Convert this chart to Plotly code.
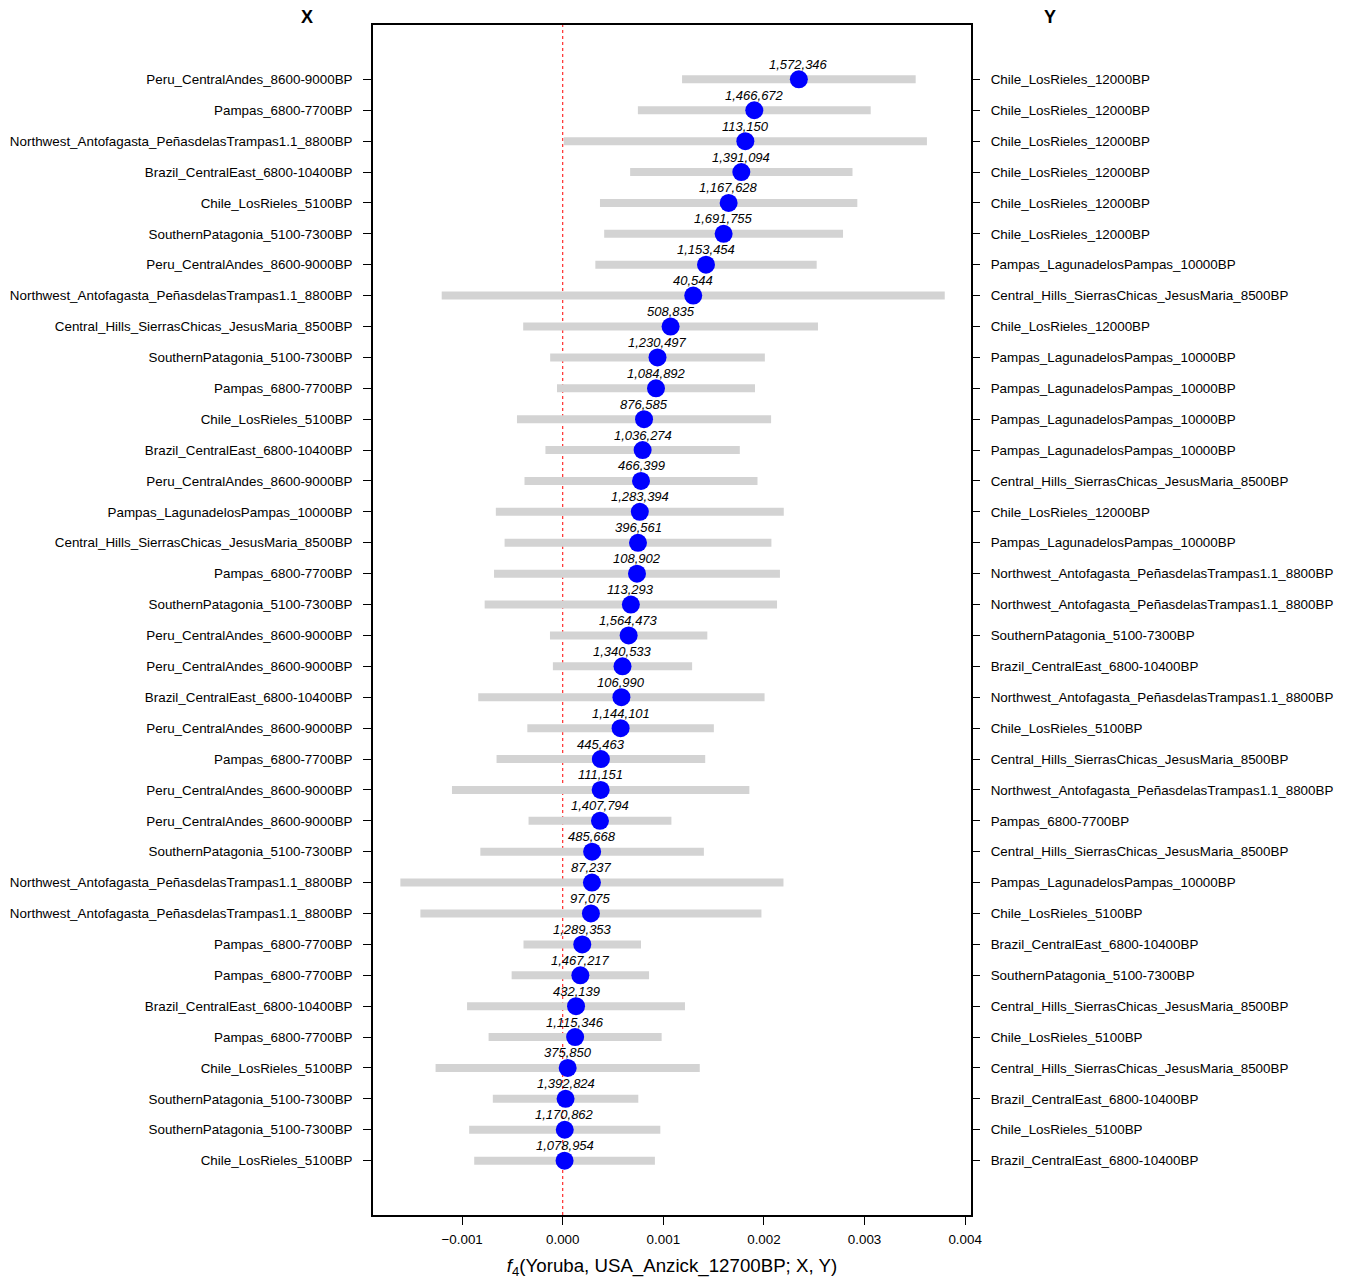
import plotly.graph_objects as go

# f4(Yoruba, USA_Anzick_12700BP; X, Y) for each X/Y pair, sorted by estimate
x_pops = [
    "Peru_CentralAndes_8600-9000BP",
    "Pampas_6800-7700BP",
    "Northwest_Antofagasta_PeñasdelasTrampas1.1_8800BP",
    "Brazil_CentralEast_6800-10400BP",
    "Chile_LosRieles_5100BP",
    "SouthernPatagonia_5100-7300BP",
    "Peru_CentralAndes_8600-9000BP",
    "Northwest_Antofagasta_PeñasdelasTrampas1.1_8800BP",
    "Central_Hills_SierrasChicas_JesusMaria_8500BP",
    "SouthernPatagonia_5100-7300BP",
    "Pampas_6800-7700BP",
    "Chile_LosRieles_5100BP",
    "Brazil_CentralEast_6800-10400BP",
    "Peru_CentralAndes_8600-9000BP",
    "Pampas_LagunadelosPampas_10000BP",
    "Central_Hills_SierrasChicas_JesusMaria_8500BP",
    "Pampas_6800-7700BP",
    "SouthernPatagonia_5100-7300BP",
    "Peru_CentralAndes_8600-9000BP",
    "Peru_CentralAndes_8600-9000BP",
    "Brazil_CentralEast_6800-10400BP",
    "Peru_CentralAndes_8600-9000BP",
    "Pampas_6800-7700BP",
    "Peru_CentralAndes_8600-9000BP",
    "Peru_CentralAndes_8600-9000BP",
    "SouthernPatagonia_5100-7300BP",
    "Northwest_Antofagasta_PeñasdelasTrampas1.1_8800BP",
    "Northwest_Antofagasta_PeñasdelasTrampas1.1_8800BP",
    "Pampas_6800-7700BP",
    "Pampas_6800-7700BP",
    "Brazil_CentralEast_6800-10400BP",
    "Pampas_6800-7700BP",
    "Chile_LosRieles_5100BP",
    "SouthernPatagonia_5100-7300BP",
    "SouthernPatagonia_5100-7300BP",
    "Chile_LosRieles_5100BP",
]

y_pops = [
    "Chile_LosRieles_12000BP",
    "Chile_LosRieles_12000BP",
    "Chile_LosRieles_12000BP",
    "Chile_LosRieles_12000BP",
    "Chile_LosRieles_12000BP",
    "Chile_LosRieles_12000BP",
    "Pampas_LagunadelosPampas_10000BP",
    "Central_Hills_SierrasChicas_JesusMaria_8500BP",
    "Chile_LosRieles_12000BP",
    "Pampas_LagunadelosPampas_10000BP",
    "Pampas_LagunadelosPampas_10000BP",
    "Pampas_LagunadelosPampas_10000BP",
    "Pampas_LagunadelosPampas_10000BP",
    "Central_Hills_SierrasChicas_JesusMaria_8500BP",
    "Chile_LosRieles_12000BP",
    "Pampas_LagunadelosPampas_10000BP",
    "Northwest_Antofagasta_PeñasdelasTrampas1.1_8800BP",
    "Northwest_Antofagasta_PeñasdelasTrampas1.1_8800BP",
    "SouthernPatagonia_5100-7300BP",
    "Brazil_CentralEast_6800-10400BP",
    "Northwest_Antofagasta_PeñasdelasTrampas1.1_8800BP",
    "Chile_LosRieles_5100BP",
    "Central_Hills_SierrasChicas_JesusMaria_8500BP",
    "Northwest_Antofagasta_PeñasdelasTrampas1.1_8800BP",
    "Pampas_6800-7700BP",
    "Central_Hills_SierrasChicas_JesusMaria_8500BP",
    "Pampas_LagunadelosPampas_10000BP",
    "Chile_LosRieles_5100BP",
    "Brazil_CentralEast_6800-10400BP",
    "SouthernPatagonia_5100-7300BP",
    "Central_Hills_SierrasChicas_JesusMaria_8500BP",
    "Chile_LosRieles_5100BP",
    "Central_Hills_SierrasChicas_JesusMaria_8500BP",
    "Brazil_CentralEast_6800-10400BP",
    "Chile_LosRieles_5100BP",
    "Brazil_CentralEast_6800-10400BP",
]

f4_est = [
    0.002347, 0.001904, 0.001815, 0.001775, 0.001649, 0.001599,
    0.001424, 0.001297, 0.001072, 0.000942, 0.000927, 0.000808,
    0.000794, 0.000778, 0.000766, 0.000748, 0.000738, 0.000677,
    0.000655, 0.000594, 0.000583, 0.000575, 0.000379, 0.000377,
    0.000370, 0.000292, 0.000290, 0.000280, 0.000194, 0.000175,
    0.000132, 0.000123, 0.000049, 0.000028, 0.000020, 0.000018,
]

# half-width of the confidence interval
f4_ci = [
    0.001161, 0.001157, 0.001805, 0.001105, 0.001279, 0.001187,
    0.001100, 0.002500, 0.001465, 0.001067, 0.000984, 0.001263,
    0.000966, 0.001158, 0.001431, 0.001326, 0.001421, 0.001453,
    0.000782, 0.000692, 0.001423, 0.000927, 0.001037, 0.001478,
    0.000710, 0.001111, 0.001904, 0.001695, 0.000584, 0.000683,
    0.001083, 0.000860, 0.001313, 0.000723, 0.000950, 0.000898,
]

n_snps = [
    1572346, 1466672, 113150, 1391094, 1167628, 1691755,
    1153454, 40544, 508835, 1230497, 1084892, 876585,
    1036274, 466399, 1283394, 396561, 108902, 113293,
    1564473, 1340533, 106990, 1144101, 445463, 111151,
    1407794, 485668, 87237, 97075, 1289353, 1467217,
    432139, 1115346, 375850, 1392824, 1170862, 1078954,
]

x_tickvals = [-0.001, 0.0, 0.001, 0.002, 0.003, 0.004]
x_ticktext = ["\u22120.001", "0.000", "0.001", "0.002", "0.003", "0.004"]

rows = list(range(len(f4_est)))
FONT = "Liberation Sans, Arial, sans-serif"

fig = go.Figure()

# confidence intervals as thick grey bars
fig.add_trace(go.Scatter(
    x=f4_est, y=rows, mode="markers",
    marker=dict(size=1, color="rgba(0,0,0,0)"),
    error_x=dict(type="data", array=f4_ci, visible=True,
                 color="#d3d3d3", thickness=8, width=0),
    hoverinfo="skip", showlegend=False,
))

# point estimates
fig.add_trace(go.Scatter(
    x=f4_est, y=rows, mode="markers",
    marker=dict(size=18, color="#0000ff", line=dict(width=0)),
    showlegend=False,
))

# invisible trace carrying the right-hand axis
fig.add_trace(go.Scatter(
    x=f4_est, y=rows, yaxis="y2", mode="markers",
    marker=dict(size=1, color="rgba(0,0,0,0)"),
    hoverinfo="skip", showlegend=False,
))

# SNP counts above each point
for xv, yv, n in zip(f4_est, rows, n_snps):
    fig.add_annotation(
        x=xv, y=yv, xref="x", yref="y",
        text=f"<i>{n:,}</i>", showarrow=False,
        yanchor="middle", yshift=15,
        font=dict(family=FONT, size=13, color="black"),
    )

# column headers
fig.add_annotation(x=-0.1243, y=1.0065, xref="paper", yref="paper",
                   text="<b>X</b>", showarrow=False, yanchor="middle",
                   font=dict(family=FONT, size=18, color="black"))
fig.add_annotation(x=1.1455, y=1.0065, xref="paper", yref="paper",
                   text="<b>Y</b>", showarrow=False, yanchor="middle",
                   font=dict(family=FONT, size=18, color="black"))

# zero reference line
fig.add_shape(type="line", x0=0, x1=0, xref="x", y0=0, y1=1, yref="paper",
              line=dict(color="red", width=1, dash="dot"), layer="below")

y_range = [len(rows) - 1 + 1.76, -1.76]

fig.update_layout(
    width=1353, height=1279,
    margin=dict(l=373, r=382, t=25, b=64, autoexpand=False),
    paper_bgcolor="white", plot_bgcolor="white",
    font=dict(family=FONT, size=13.4, color="black"),
    xaxis=dict(
        range=[-0.001886, 0.004058],
        tickmode="array", tickvals=x_tickvals, ticktext=x_ticktext,
        ticks="outside", ticklen=8, tickwidth=1.3, tickcolor="black",
        showline=True, linecolor="black", linewidth=1.6, mirror=True,
        showgrid=False, zeroline=False,
        tickfont=dict(family=FONT, size=13.4),
        ticklabelstandoff=3,
        title=dict(text="<i>f</i><sub>4</sub>(Yoruba, USA_Anzick_12700BP; X, Y)",
                   font=dict(family=FONT, size=18.7), standoff=16),
    ),
    yaxis=dict(
        range=y_range,
        tickmode="array", tickvals=rows, ticktext=x_pops,
        ticks="outside", ticklen=8, tickwidth=1.3, tickcolor="black",
        showline=True, linecolor="black", linewidth=1.6, mirror=True,
        showgrid=False, zeroline=False,
        tickfont=dict(family=FONT, size=13.4),
        ticklabelstandoff=8,
    ),
    yaxis2=dict(
        range=y_range, overlaying="y", side="right",
        tickmode="array", tickvals=rows, ticktext=y_pops,
        ticks="outside", ticklen=8, tickwidth=1.3, tickcolor="black",
        showline=False, showgrid=False, zeroline=False,
        tickfont=dict(family=FONT, size=13.4),
        ticklabelstandoff=8,
    ),
)

fig.write_html("out.html")
